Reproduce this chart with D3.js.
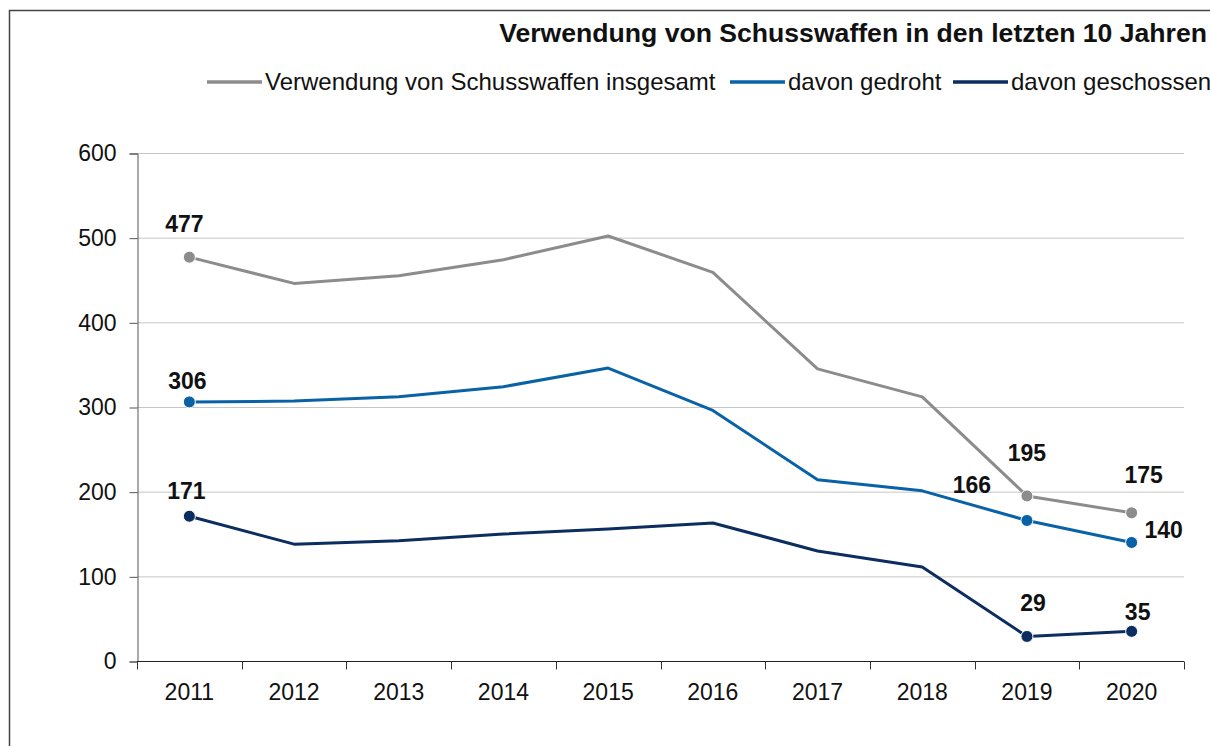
<!DOCTYPE html>
<html>
<head>
<meta charset="utf-8">
<script src="https://cdn.jsdelivr.net/npm/d3@7"></script>
<style>
  body { margin: 0; background: #fff; }
  text { font-family: "Liberation Sans", Arial, sans-serif; }
</style>
</head>
<body>
<div id="main"></div>
<script>
const width = 1210;
const height = 746;

const years = ['2011','2012','2013','2014','2015','2016','2017','2018','2019','2020'];
const insgesamt = [477, 446, 455, 474, 502, 459, 345, 312, 195, 175];
const gedroht = [306, 307, 312, 324, 346, 296, 214, 201, 166, 140];
const geschossen = [171, 138, 142, 150, 156, 163, 130, 111, 29, 35];
const yTicks = [0, 100, 200, 300, 400, 500, 600];

const series = [
    {name: 'Verwendung von Schusswaffen insgesamt', values: insgesamt, color: '#8c8c8c',
     labels: {0: [-5, -25], 8: [0, -35], 9: [12, -30]}},
    {name: 'davon gedroht', values: gedroht, color: '#0a62a6',
     labels: {0: [-2, -13], 8: [-55, -27], 9: [32, -4]}},
    {name: 'davon geschossen', values: geschossen, color: '#0b2d5f',
     labels: {0: [-3, -17], 8: [6, -25], 9: [6, -11]}}
];
const markerIdx = [0, 8, 9];

const margin = {left: 137, right: 26, top: 153, bottom: 85};

const svg = d3.select('#main')
    .append('svg')
    .attr('width', width)
    .attr('height', height);

// frame
svg.append('rect')
    .attr('x', 9.5).attr('y', 10.5)
    .attr('width', width + 10).attr('height', height + 10)
    .attr('fill', 'none').attr('stroke', '#444').attr('stroke-width', 1.5);

const x = d3.scaleBand()
    .domain(years)
    .range([margin.left, width - margin.right]);

const y = d3.scaleLinear()
    .domain([0, 600])
    .range([height - margin.bottom, margin.top]);

// gridlines
svg.append('g')
    .selectAll('line')
    .data(yTicks.slice(1))
    .enter()
    .append('line')
    .attr('x1', margin.left).attr('x2', width - margin.right)
    .attr('y1', d => y(d) + 0.5).attr('y2', d => y(d) + 0.5)
    .attr('stroke', '#c6c6c6').attr('stroke-width', 1);

// y axis
const yAxis = svg.append('g')
    .attr('transform', `translate(${margin.left + 0.5},0.5)`)
    .call(d3.axisLeft(y).tickValues(yTicks).tickSizeOuter(0).tickSize(8).tickPadding(13));
yAxis.select('.domain').attr('stroke', '#555');
yAxis.selectAll('.tick line').attr('stroke', '#555');
yAxis.selectAll('text').attr('font-size', 23).attr('fill', '#111')
    .attr('font-family', '"Liberation Sans", Arial, sans-serif');

// x axis with ticks between categories
const xAxis = svg.append('g')
    .attr('transform', `translate(0,${y(0) + 0.5})`);
xAxis.append('line')
    .attr('x1', margin.left).attr('x2', width - margin.right)
    .attr('stroke', '#222');
const bounds = years.map(d => x(d)).concat([x(years[years.length - 1]) + x.bandwidth()]);
xAxis.selectAll('.tk')
    .data(bounds)
    .enter()
    .append('line')
    .attr('x1', d => Math.round(d) + 0.5).attr('x2', d => Math.round(d) + 0.5)
    .attr('y1', 0).attr('y2', 8)
    .attr('stroke', '#333');
xAxis.selectAll('.lbl')
    .data(years)
    .enter()
    .append('text')
    .attr('x', d => x(d) + x.bandwidth() / 2)
    .attr('y', 38)
    .attr('text-anchor', 'middle')
    .attr('font-size', 23)
    .attr('fill', '#111')
    .text(d => d);

const line = d3.line()
    .x((d, i) => x(years[i]) + x.bandwidth() / 2)
    .y(d => y(d));

series.forEach(s => {
    svg.append('path')
        .datum(s.values)
        .attr('fill', 'none')
        .attr('stroke', s.color)
        .attr('stroke-width', 3)
        .attr('stroke-linejoin', 'round')
        .attr('d', line);

    svg.append('g')
        .selectAll('circle')
        .data(markerIdx)
        .enter()
        .append('circle')
        .attr('cx', i => x(years[i]) + x.bandwidth() / 2)
        .attr('cy', i => y(s.values[i]))
        .attr('r', 6)
        .attr('fill', s.color)
        .attr('stroke', '#fff')
        .attr('stroke-width', 1);

    svg.append('g')
        .selectAll('text')
        .data(markerIdx)
        .enter()
        .append('text')
        .attr('x', i => x(years[i]) + x.bandwidth() / 2 + s.labels[i][0])
        .attr('y', i => y(s.values[i]) + s.labels[i][1])
        .attr('text-anchor', 'middle')
        .attr('font-size', 23)
        .attr('font-weight', 'bold')
        .attr('fill', '#111')
        .text(i => s.values[i]);
});

// title
svg.append('text')
    .attr('x', 1207).attr('y', 42)
    .attr('text-anchor', 'end')
    .attr('font-size', 26.6)
    .attr('font-weight', 'bold')
    .attr('fill', '#111')
    .text('Verwendung von Schusswaffen in den letzten 10 Jahren');

// legend
const legendPos = [207, 730, 953];
const leg = svg.append('g');
series.forEach((s, i) => {
    leg.append('line')
        .attr('x1', legendPos[i]).attr('x2', legendPos[i] + 55)
        .attr('y1', 82).attr('y2', 82)
        .attr('stroke', s.color).attr('stroke-width', 3.5);
    leg.append('text')
        .attr('x', legendPos[i] + 58).attr('y', 90)
        .attr('font-size', 24)
        .attr('fill', '#111')
        .text(s.name);
});
</script>
</body>
</html>
